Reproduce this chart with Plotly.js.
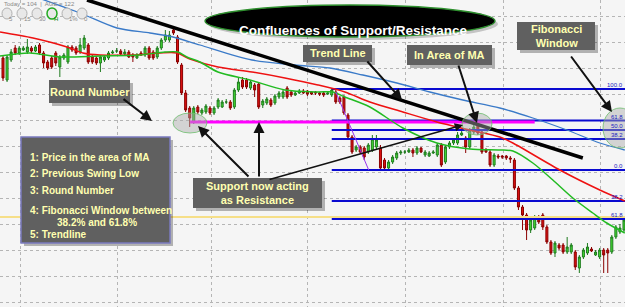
<!DOCTYPE html>
<html><head><meta charset="utf-8">
<script src="https://cdn.plot.ly/plotly-3.0.1.min.js"></script>
<style>html,body{margin:0;padding:0;background:#f5f5f5}#c{width:625px;height:307px}</style>
</head><body><div id="c"></div>
<script>
// ---- candle data (price units) ----
const openP = [249,227,247,259,254,257,255,259,256,262,
254,245,249,254,240,249,245,260,259,255,
259,262,250,249,244,247,249,254,256,256,
253,255,252,249,254,252,259,255,250,259,
267,267,277,270,242,214,199,185,200,194,
195,199,194,200,200,205,205,200,217,227,
227,219,222,223,202,204,207,204,210,210,
219,215,212,214,216,216,215,215,214,214,
213,212,215,209,210,192,170,157,160,159,
155,157,160,159,147,139,145,149,154,155,
155,157,154,159,152,151,154,152,162,145,
160,164,164,172,169,160,175,184,175,157,
155,142,151,151,151,149,147,119,100,92,
77,79,90,92,80,65,54,62,62,55,
55,55,39,50,54,58,52,50,57,57,
55,70,75,77];
const highP = [252,252,258,262,261,261,268,261,262,264,
256,247,251,256,252,254,262,262,261,269,
272,264,252,251,252,252,256,257,259,258,
258,257,254,254,256,261,261,257,261,269,
277,276,279,272,244,217,201,201,202,199,
203,201,201,209,207,208,207,219,229,230,
229,227,224,225,208,210,209,213,216,217,
221,217,216,218,218,217,216,216,215,215,
216,219,217,211,212,194,172,162,162,161,
164,172,172,162,149,147,152,156,157,157,
159,159,161,160,157,156,157,164,164,162,
166,169,175,177,171,179,183,186,177,159,
157,154,153,152,152,151,149,121,102,94,
90,92,92,94,82,67,66,64,64,70,
64,57,52,59,64,60,57,59,59,59,
72,82,83,89];
const lowP = [226,225,245,252,252,256,253,254,255,252,
239,237,238,241,230,247,243,255,252,253,
257,243,243,242,235,245,247,253,254,252,
252,249,245,248,251,250,247,247,248,257,
265,265,272,243,212,195,180,183,193,192,
193,192,192,198,199,203,197,198,215,218,
218,217,210,198,199,202,200,202,208,208,
208,210,211,213,213,211,212,212,211,210,
212,210,203,203,192,168,153,155,153,147,
153,155,158,137,137,137,143,147,152,153,
154,150,152,154,150,150,153,150,140,143,
158,162,162,171,154,158,173,172,153,154,
140,140,148,148,147,144,117,97,77,67,
74,77,83,77,63,52,50,57,53,53,
53,37,34,48,52,55,51,48,34,34,
53,68,73,75];
const closeP = [229,250,255,254,259,259,260,256,260,254,
244,239,240,244,250,252,260,257,254,262,
269,245,245,244,250,250,254,255,256,253,
255,250,250,252,252,259,249,249,259,267,
272,272,274,245,214,197,189,199,195,197,
201,194,199,207,205,205,199,217,225,220,
220,225,217,200,206,208,202,211,214,215,
210,212,214,216,214,213,213,214,213,212,
214,217,205,205,194,170,155,160,155,150,
162,168,167,139,139,145,150,154,155,155,
157,154,159,155,155,154,155,162,142,160,
164,167,172,174,160,177,180,174,155,155,
142,152,150,150,149,148,119,100,92,77,
87,90,85,80,65,54,64,59,55,60,
62,40,50,57,60,56,55,57,52,54,
70,80,79,87];

// ---- moving averages (bar index, price) ----
const maGreenX = [-0.74,6.65,14.04,23.89,33.74,39.9,43.1,45.3,48.5,52.96,60.84,69.46,77.59,81.28,84.24,90.39,98.52,106.9,115.02,122.41,125.62,130.54,135.47,140.39,145.32,148.77,153.2];
const maGreenY = [251,254,250,251,252,255,255,250,245,235,227,217,215,215,210,200,179,164,158,157,156,144,127,109,94,84,74];
const maRedX = [-0.74,7.39,15.76,19.7,23.89,32.02,38.67,42.86,46.06,52.96,61.33,69.46,77.59,84.24,90.39,98.52,106.9,115.02,122.41,125.62,137.19,147.04,153.2];
const maRedY = [275,269,260,254,252,252,254,254,248,240,235,229,222,215,205,195,185,177,170,164,137,117,106];
const maBlueX = [6.65,18.97,28.08,36.21,41.87,48.52,61.33,71.92,80.54,88.67,97.04,105.17,113.3,122.41,130.54,138.92,147.04,153.2];
const maBlueY = [312,294,279,274,270,262,247,242,239,232,224,215,207,199,189,177,164,157];

// ---- drawn levels / lines ----
const trendX = [20.69,142.86];
const trendY = [307,149];
const fibSwingX = [82.0,90.1];
const fibSwingY = [215,137];
const fibLevels = [218,186.5,177,168,137,106,88];
const fibLabels = ['100.0','61.8','50.0','38.2','0.0','38.2','61.8'];
const fibStart = 81.0;
const roundNumber = 185;
const roundStart = 46.1, roundEnd = 131.0;
const yellowLevel = 90;
const gridX = [4.19,28.33,51.48,75.12,99.26,123.4,147.3];

const X0 = -0.74, X1 = 153.25;
const W = 625, H = 307;
const fx = p => p / W, fy = p => 1 - p / H;
const FONT = 'Liberation Sans, Arial, sans-serif';

const idx = openP.map((_, i) => i);
const traces = [];
traces.push({type:'scatter', mode:'lines', x:[X0,X1], y:[yellowLevel,yellowLevel], line:{color:'#f6df88', width:2}, hoverinfo:'skip'});
fibLevels.forEach(v => traces.push({type:'scatter', mode:'lines', x:[fibStart,X1], y:[v,v], line:{color:'#0a0ad0', width:2}, hoverinfo:'skip'}));
traces.push({type:'scatter', mode:'lines', x:[roundStart,roundEnd], y:[roundNumber,roundNumber], line:{color:'#ff00ff', width:3}, hoverinfo:'skip'});
traces.push({type:'scatter', mode:'lines', x:maBlueX, y:maBlueY, line:{color:'#3a7ac8', width:1.3, shape:'spline', smoothing:0.8}});
traces.push({type:'scatter', mode:'lines', x:maRedX, y:maRedY, line:{color:'#ee1111', width:1.5, shape:'spline', smoothing:0.8}});
traces.push({type:'scatter', mode:'lines', x:maGreenX, y:maGreenY, line:{color:'#22bb22', width:1.5, shape:'spline', smoothing:0.8}});
traces.push({type:'candlestick', x:idx, open:openP, high:highP, low:lowP, close:closeP,
  increasing:{line:{color:'#1d7a1d', width:1}, fillcolor:'#44dd33'},
  decreasing:{line:{color:'#8a0000', width:1}, fillcolor:'#dd1111'},
  whiskerwidth:0});
traces.push({type:'scatter', mode:'lines', x:fibSwingX, y:fibSwingY, line:{color:'#9933ee', width:1}});
traces.push({type:'scatter', mode:'lines', x:trendX, y:trendY, line:{color:'#000000', width:3.5}});

const shapes = [];
const annotations = [];
function box(x0, y0, x1, y1, border) {
  shapes.push({type:'rect', xref:'paper', yref:'paper', x0:fx(x0+3), x1:fx(x1+3), y0:fy(y1+3), y1:fy(y0+3), fillcolor:'rgba(0,0,0,0.28)', line:{width:0}, layer:'above'});
  shapes.push({type:'rect', xref:'paper', yref:'paper', x0:fx(x0), x1:fx(x1), y0:fy(y1), y1:fy(y0), fillcolor:'#606060', line:{width:border?1.5:0, color:border||'#606060'}, layer:'above'});
}
function label(text, cx, cy, size, align, anchor) {
  annotations.push({xref:'paper', yref:'paper', x:fx(cx), y:fy(cy), text:'<b>'+text+'</b>', showarrow:false, xanchor:anchor||'center', yanchor:'middle', align:align||'center', font:{family:FONT, size:size||11, color:'#ffffb0'}});
}
function arrow(hx, hy, ax, ay, w) {
  annotations.push({xref:'paper', yref:'paper', x:fx(hx), y:fy(hy), ax:ax, ay:ay, text:'', showarrow:true, arrowhead:2, arrowsize:1.1, arrowwidth:w||2, arrowcolor:'#111111'});
}
// highlight ellipses
[[173,113,207,133],[462,113,492,135],[603,108,637,148]].forEach(e => shapes.push({type:'circle', xref:'paper', yref:'paper', x0:fx(e[0]), x1:fx(e[2]), y0:fy(e[3]), y1:fy(e[1]), fillcolor:'rgba(170,170,170,0.45)', line:{color:'rgba(110,190,110,0.8)', width:1}, layer:'above'}));

// title ellipse
shapes.push({type:'circle', xref:'paper', yref:'paper', x0:fx(208), x1:fx(498), y0:fy(40), y1:fy(8), fillcolor:'rgba(0,0,0,0.2)', line:{width:0}, layer:'above'});
shapes.push({type:'circle', xref:'paper', yref:'paper', x0:fx(205), x1:fx(495), y0:fy(37), y1:fy(5), fillcolor:'#000000', line:{color:'#2e8f2e', width:1.5}, layer:'above'});
annotations.push({xref:'paper', yref:'paper', x:fx(353), y:fy(21), text:'<b>Confluences of Support/Resistance</b>', showarrow:false, font:{family:FONT, size:13.5, color:'#ffffff'}});

// boxes
box(49,80,130,103); label('Round Number', 89.5, 91.5);
box(303,45,372,62); label('Trend Line', 337.5, 53.5);
box(407,45,492,65); label('In Area of MA', 449.5, 55);
box(517,22,595,50); label('Fibonacci<br>Window', 556, 36);
box(193,178,322,208); label('Support now acting<br>as Resistance', 257.5, 193);
box(21,137,170,243,'#7a7abf');
label('1: Price in the area of MA', 28, 157, 10, 'left', 'left');
label('2: Previous Swing Low', 28, 173, 10, 'left', 'left');
label('3: Round Number', 28, 190, 10, 'left', 'left');
label('4: Fibonacci Window between', 28, 210, 10, 'left', 'left');
label('38.2% and 61.8%', 97, 222, 10);
label('5: Trendline', 28, 234, 10, 'left', 'left');

// arrows
arrow(152,121,-30,-23);
arrow(198,126,52,52);
arrow(259,122,0,56);
arrow(463,125,-195,55,1.5);
arrow(402,100,-36,-40);
arrow(477,123,-19,-59);
arrow(612,112,-42,-57);

// fib labels
fibLevels.forEach((v,i) => annotations.push({xref:'paper', yref:'y', x:1, y:v, xanchor:'right', yanchor:'bottom', yshift:-1, text:fibLabels[i], showarrow:false, font:{family:FONT, size:6, color:'#2020c0'}}));

// toolbar
annotations.push({xref:'paper', yref:'paper', x:fx(2), y:fy(4), xanchor:'left', yanchor:'middle', text:'Today = 104  |  AGE = 122', showarrow:false, font:{family:FONT, size:6, color:'#888'}});
const tb = ['5','15','30','H','1%','0'];
tb.forEach((t,i) => {
  const cx = 7 + i*15;
  shapes.push({type:'circle', xref:'paper', yref:'paper', x0:fx(cx-5), x1:fx(cx+5), y0:fy(19), y1:fy(8), fillcolor:'#e8e8e8', line:{color: t==='H' ? '#22aa22' : '#b0b0b0', width: t==='H' ? 1.5 : 1}, layer:'above'});
  annotations.push({xref:'paper', yref:'paper', x:fx(cx), y:fy(13.5), text:t, showarrow:false, font:{family:FONT, size:6, color: t==='H' ? '#118811' : '#888'}});
});

const layout = {
  width:W, height:H, margin:{l:0,r:0,t:0,b:0},
  paper_bgcolor:'#f5f5f5', plot_bgcolor:'#f5f5f5', showlegend:false,
  xaxis:{range:[X0,X1], showticklabels:false, ticks:'', tickmode:'array', tickvals:gridX, showgrid:true, gridcolor:'#b5b5b5', griddash:'dot', zeroline:false, rangeslider:{visible:false}, fixedrange:true},
  yaxis:{range:[0,307], showticklabels:false, ticks:'', tick0:5, dtick:26, showgrid:true, gridcolor:'#b5b5b5', griddash:'dot', zeroline:false, fixedrange:true},
  shapes:shapes, annotations:annotations
};
Plotly.newPlot('c', traces, layout, {staticPlot:true, displayModeBar:false});
</script></body></html>
